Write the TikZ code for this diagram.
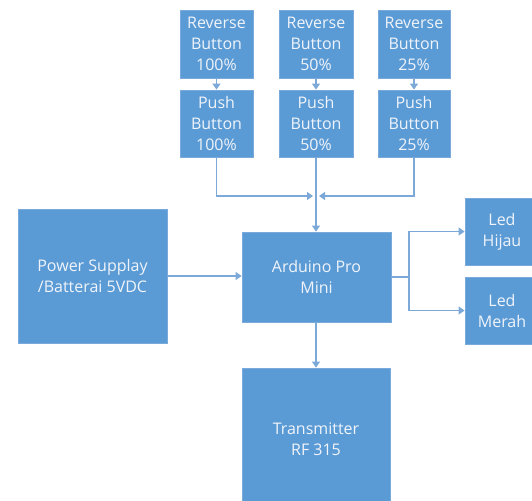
\documentclass[tikz,border=0pt]{standalone}
\usepackage{fontspec}
\setmainfont{Open Sans}
\usetikzlibrary{arrows.meta}
\definecolor{boxfill}{HTML}{5B9BD5}
\definecolor{boxedge}{HTML}{7AAADB}
\definecolor{linecol}{HTML}{7DA9D8}
\definecolor{txtcol}{HTML}{F0F4FA}
\tikzset{
  blk/.style={draw=boxedge, line width=0.8pt, fill=boxfill, text=txtcol, align=center,
    inner sep=0pt, font=\fontsize{16}{21}\selectfont},
  conn/.style={draw=linecol, line width=1.2pt, -{Triangle[width=8pt,length=6pt]}},
  plain/.style={draw=linecol, line width=1.2pt}
}
\begin{document}
\begin{tikzpicture}[x=1pt,y=-1pt]
\useasboundingbox (0,0) rectangle (532,500);
\clip (0,0) rectangle (532,500);
% top row
\node[blk, minimum width=73pt, minimum height=68pt] (r1) at (216.5,44) {Reverse\\Button\\100\%};
\node[blk, minimum width=74pt, minimum height=68pt] (r2) at (316,44) {Reverse\\Button\\50\%};
\node[blk, minimum width=72pt, minimum height=68pt] (r3) at (414,44) {Reverse\\Button\\25\%};
\node[blk, minimum width=73pt, minimum height=67pt] (p1) at (216.5,123.5) {Push\\Button\\100\%};
\node[blk, minimum width=74pt, minimum height=67pt] (p2) at (316,123.5) {Push\\Button\\50\%};
\node[blk, minimum width=72pt, minimum height=67pt] (p3) at (414,123.5) {Push\\Button\\25\%};
% middle
\node[blk, minimum width=149pt, minimum height=134pt] (ps) at (92.5,276) {Power Supplay\\/Batterai 5VDC};
\node[blk, minimum width=149pt, minimum height=90pt] (ard) at (316.5,277) {Arduino Pro\\Mini};
\node[blk, minimum width=74pt, minimum height=67pt] (hij) at (502,231.5) {Led\\Hijau};
\node[blk, minimum width=74pt, minimum height=67pt] (mer) at (502,310.5) {Led\\Merah};
\node[blk, minimum width=148pt, minimum height=142pt] (tx) at (316,439) {Transmitter\\RF 315};
% connectors
\draw[conn] (r1) -- (p1);
\draw[conn] (r2) -- (p2);
\draw[conn] (r3) -- (p3);
\coordinate (m) at (316,196);
\draw[conn] (p1.south) |- ([xshift=-3pt]m);
\draw[conn] (p3.south) |- ([xshift=3pt]m);
\draw[conn] (p2.south) -- (p2.south |- ard.north);
\draw[conn] (ps.east) -- (ps.east -| ard.west);
\coordinate (br) at (409,277);
\draw[plain] (ard.east) -- (br);
\draw[conn] (br) |- (hij.west);
\draw[conn] (br) |- (mer.west);
\draw[conn] (ard.south -| tx.north) -- (tx.north);
\end{tikzpicture}
\end{document}
